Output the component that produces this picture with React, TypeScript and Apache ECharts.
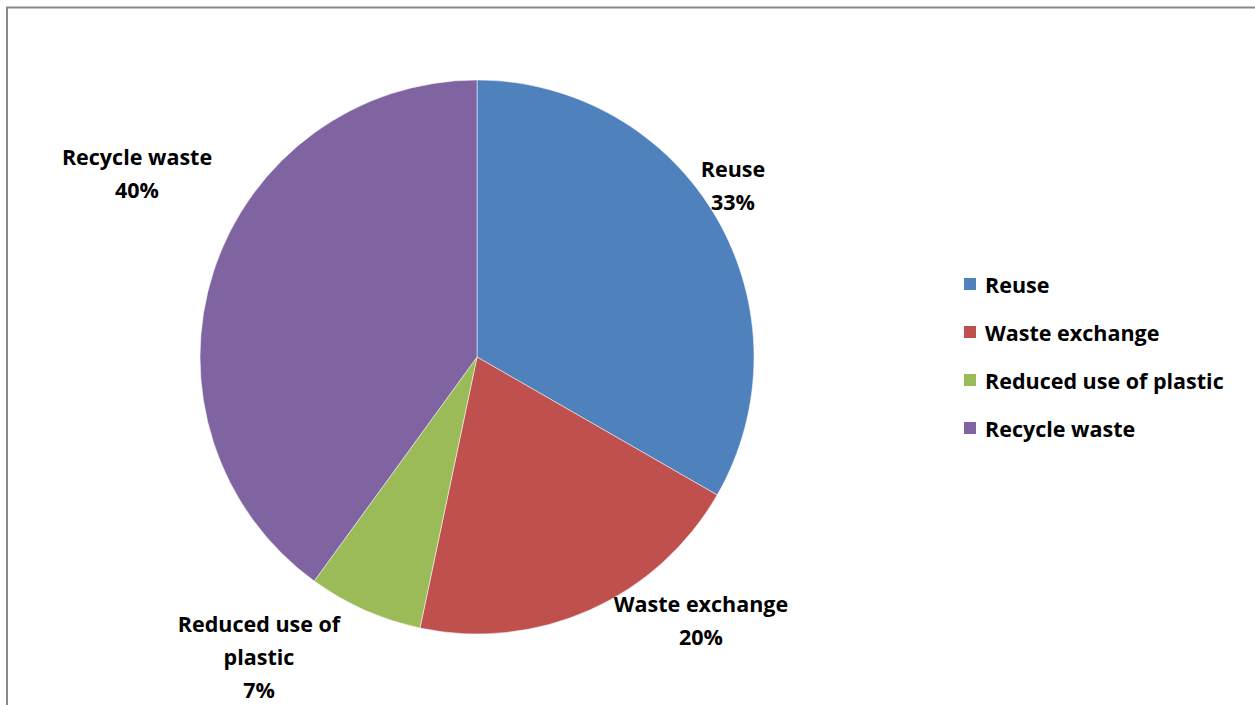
import React, { useEffect, useRef } from "react";
import * as echarts from "echarts";

const categories = ["Reuse", "Waste exchange", "Reduced use of plastic", "Recycle waste"];
const values = [33.3, 20, 6.7, 40];
const colors = ["#4F81BD", "#C0504D", "#9BBB59", "#8064A2"];
const labelTexts = ["Reuse", "Waste exchange", "Reduced use of\nplastic", "Recycle waste"];
const labelCenters = [
  [733, 185],
  [701, 620],
  [259, 656],
  [137, 173],
];

const FONT = "Open Sans";

export default function App() {
  const ref = useRef<HTMLDivElement>(null);
  useEffect(() => {
    if (!ref.current) return;
    const chart = echarts.init(ref.current, null, { renderer: "svg" });
    chart.setOption({
      animation: false,
      backgroundColor: "#ffffff",
      graphic: [
        {
          type: "rect",
          shape: { x: 7, y: 7.5, width: 1300, height: 750 },
          style: { fill: "none", stroke: "#8a8a8a", lineWidth: 2 },
          silent: true,
          z: -1,
        },
      ],
      legend: {
        orient: "vertical",
        left: 962,
        top: 272,
        padding: 0,
        itemWidth: 14,
        itemHeight: 14,
        itemGap: 24,
        icon: "rect",
        textStyle: {
          fontFamily: FONT,
          fontWeight: "bold",
          fontSize: 21.5,
          lineHeight: 24,
          color: "#000",
          padding: [0, 0, 0, 3],
        },
        data: categories,
      },
      series: [
        {
          type: "pie",
          center: [477, 357],
          radius: 277,
          startAngle: 90,
          clockwise: true,
          percentPrecision: 0,
          itemStyle: { borderColor: "#ffffff", borderWidth: 0.5 },
          label: {
            show: true,
            position: "outside",
            fontFamily: FONT,
            fontWeight: "bold",
            fontSize: 21.5,
            lineHeight: 33,
            color: "#000",
            align: "center",
            formatter: (p: any) => `${labelTexts[p.dataIndex]}\n${Math.round(p.percent)}%`,
          },
          labelLine: { show: false },
          labelLayout: (p: any) => ({
            x: labelCenters[p.dataIndex][0],
            y: labelCenters[p.dataIndex][1],
            align: "center",
            verticalAlign: "middle",
          }),
          emphasis: { disabled: true },
          data: categories.map((c, i) => ({
            name: c,
            value: values[i],
            itemStyle: { color: colors[i] },
          })),
        },
      ],
    });
    return () => chart.dispose();
  }, []);
  return (
    <div
      ref={ref}
      style={{ position: "fixed", left: 0, top: 0, width: 1255, height: 705 }}
    />
  );
}
